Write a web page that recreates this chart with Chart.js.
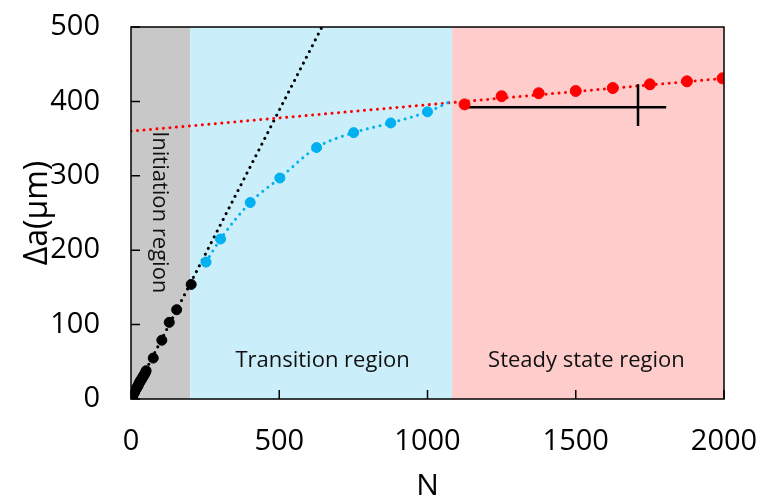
<!DOCTYPE html>
<html>
<head>
<meta charset="utf-8">
<script src="https://cdn.jsdelivr.net/npm/chart.js@4/dist/chart.umd.min.js"></script>
<style>
  body { margin: 0; background: #fff; }
  #wrap { width: 761px; height: 500px; }
</style>
</head>
<body>
<div id="wrap"><canvas id="crackChart"></canvas></div>
<script>
// data: N (cycles) vs crack growth da (um)
var blackN = [0, 3, 6, 9, 12, 15, 18, 21, 24, 27, 30, 33, 36, 39, 42, 45, 48, 51, 75, 104, 129, 154, 203];
var blackA = [0, 2, 4, 7, 9, 12, 14, 16, 18, 21, 23, 25, 27, 29, 31, 33, 35, 38, 55, 79, 103, 120, 154];
var blueN = [253, 302, 402, 502, 626, 751, 876, 1000];
var blueA = [184, 215, 264, 297, 338, 358, 371, 386];
var blueLineN = [253, 302, 402, 502, 626, 751, 876, 1000, 1083];
var blueLineA = [184, 215, 264, 297, 338, 358, 371, 386, 401];
var redN = [1125, 1250, 1375, 1500, 1625, 1750, 1875, 1995];
var redA = [396, 407, 411, 414, 418, 423, 427, 431];
var redTrendN = [0, 2000];
var redTrendA = [360, 431];
var blackTrendN = [0, 644];
var blackTrendA = [0, 500];
var crossHN = [1127, 1805];
var crossHA = [392, 392];
var crossVN = [1710, 1710];
var crossVA = [423, 367];
// region limits on the N axis
var regionEdges = [0, 200, 1083, 2000];
var regionColors = ['#c8c8c8', '#caeefa', '#ffcccc'];
var regionNames = ['Initiation region', 'Transition region', 'Steady state region'];
var xTicks = [0, 500, 1000, 1500, 2000];
var yTicks = [0, 100, 200, 300, 400, 500];

function pts(xs, ys) {
    var out = [];
    for (var i = 0; i < xs.length; i++) {
        out.push({x: xs[i], y: ys[i]});
    }
    return out;
}

var regionPlugin = {
    id: 'regions',
    beforeDatasetsDraw: function (chart) {
        var ctx = chart.ctx;
        var xs = chart.scales.x, ys = chart.scales.y;
        var area = chart.chartArea;
        ctx.save();
        for (var i = 0; i < regionColors.length; i++) {
            var x0 = xs.getPixelForValue(regionEdges[i]);
            var x1 = xs.getPixelForValue(regionEdges[i + 1]);
            ctx.fillStyle = regionColors[i];
            ctx.fillRect(x0, area.top, x1 - x0, area.bottom - area.top);
        }
        // region labels
        ctx.fillStyle = '#111';
        ctx.font = '22px "Open Sans"';
        ctx.textAlign = 'center';
        ctx.textBaseline = 'middle';
        ctx.fillText(regionNames[1], xs.getPixelForValue(646), ys.getPixelForValue(51));
        ctx.fillText(regionNames[2], xs.getPixelForValue(1536), ys.getPixelForValue(51));
        ctx.save();
        ctx.translate(xs.getPixelForValue(94), ys.getPixelForValue(251));
        ctx.rotate(Math.PI / 2);
        ctx.fillText(regionNames[0], 0, 0);
        ctx.restore();
        ctx.restore();
    },
    afterDatasetsDraw: function (chart) {
        var ctx = chart.ctx;
        var xs = chart.scales.x, ys = chart.scales.y;
        var area = chart.chartArea;
        ctx.save();
        ctx.strokeStyle = '#000';
        ctx.lineWidth = 1.5;
        ctx.strokeRect(area.left, area.top, area.right - area.left, area.bottom - area.top);
        // inward tick marks
        ctx.beginPath();
        xTicks.forEach(function (v) {
            var px = xs.getPixelForValue(v);
            ctx.moveTo(px, area.bottom);
            ctx.lineTo(px, area.bottom - 9);
        });
        yTicks.forEach(function (v) {
            var py = ys.getPixelForValue(v);
            ctx.moveTo(area.left, py);
            ctx.lineTo(area.left + 9, py);
        });
        ctx.stroke();
        ctx.restore();
    }
};

var dotted = [0.01, 6.5];

var ctx = document.getElementById('crackChart').getContext('2d');
var crackChart = new Chart(ctx, {
    type: 'scatter',
    data: {
        datasets: [
            {
                label: 'Initiation',
                data: pts(blackN, blackA),
                backgroundColor: '#000',
                borderColor: '#000',
                pointRadius: 5
            },
            {
                label: 'Transition',
                data: pts(blueN, blueA),
                backgroundColor: '#00b0f0',
                borderColor: '#00b0f0',
                pointRadius: 5
            },
            {
                label: 'Steady state',
                data: pts(redN, redA),
                backgroundColor: '#ff0000',
                borderColor: '#ff0000',
                pointRadius: 5.5
            },
            {
                label: 'cross h',
                data: pts(crossHN, crossHA),
                showLine: true,
                borderColor: '#000',
                borderWidth: 2.5,
                pointRadius: 0
            },
            {
                label: 'cross v',
                data: pts(crossVN, crossVA),
                showLine: true,
                borderColor: '#000',
                borderWidth: 2.5,
                pointRadius: 0
            },
            {
                label: 'transition fit',
                data: pts(blueLineN, blueLineA),
                showLine: true,
                cubicInterpolationMode: 'monotone',
                borderColor: '#00b0f0',
                borderWidth: 3,
                borderDash: dotted,
                borderCapStyle: 'round',
                pointRadius: 0
            },
            {
                label: 'steady fit',
                data: pts(redTrendN, redTrendA),
                showLine: true,
                borderColor: '#ff0000',
                borderWidth: 3,
                borderDash: dotted,
                borderCapStyle: 'round',
                pointRadius: 0
            },
            {
                label: 'initiation fit',
                data: pts(blackTrendN, blackTrendA),
                showLine: true,
                borderColor: '#000',
                borderWidth: 3,
                borderDash: dotted,
                borderCapStyle: 'round',
                pointRadius: 0
            }
        ]
    },
    options: {
        responsive: true,
        maintainAspectRatio: false,
        animation: false,
        layout: {
            padding: {top: 27, right: 37, left: 0, bottom: 0}
        },
        plugins: {
            legend: {display: false},
            tooltip: {enabled: false}
        },
        scales: {
            x: {
                type: 'linear',
                min: 0,
                max: 2000,
                afterFit: function (scale) {
                    scale.height = 101;
                    scale.paddingLeft = 0;
                    scale.paddingRight = 0;
                },
                afterBuildTicks: function (scale) {
                    scale.ticks = xTicks.map(function (v) { return {value: v}; });
                },
                grid: {display: false, drawTicks: false},
                border: {display: false},
                ticks: {
                    color: '#000',
                    padding: 25,
                    maxRotation: 0,
                    callback: function (v) { return String(v); },
                    font: {family: '"Open Sans"', size: 29}
                },
                title: {
                    display: true,
                    text: 'N',
                    color: '#000',
                    padding: {top: 0, bottom: 0},
                    font: {family: '"Open Sans"', size: 30, lineHeight: 0.87}
                }
            },
            y: {
                type: 'linear',
                min: 0,
                max: 500,
                afterFit: function (scale) {
                    scale.width = 131;
                    scale.paddingTop = 0;
                    scale.paddingBottom = 0;
                },
                afterBuildTicks: function (scale) {
                    scale.ticks = yTicks.map(function (v) { return {value: v}; });
                },
                grid: {display: false, drawTicks: false},
                border: {display: false},
                ticks: {
                    color: '#000',
                    padding: 31,
                    callback: function (v) { return String(v); },
                    font: {family: '"Open Sans"', size: 29}
                },
                title: {
                    display: true,
                    text: 'Δa(μm)',
                    color: '#000',
                    padding: {top: 19, bottom: 0},
                    font: {family: '"Open Sans"', size: 32, lineHeight: 1.2}
                }
            }
        }
    },
    plugins: [regionPlugin]
});
</script>
</body>
</html>
